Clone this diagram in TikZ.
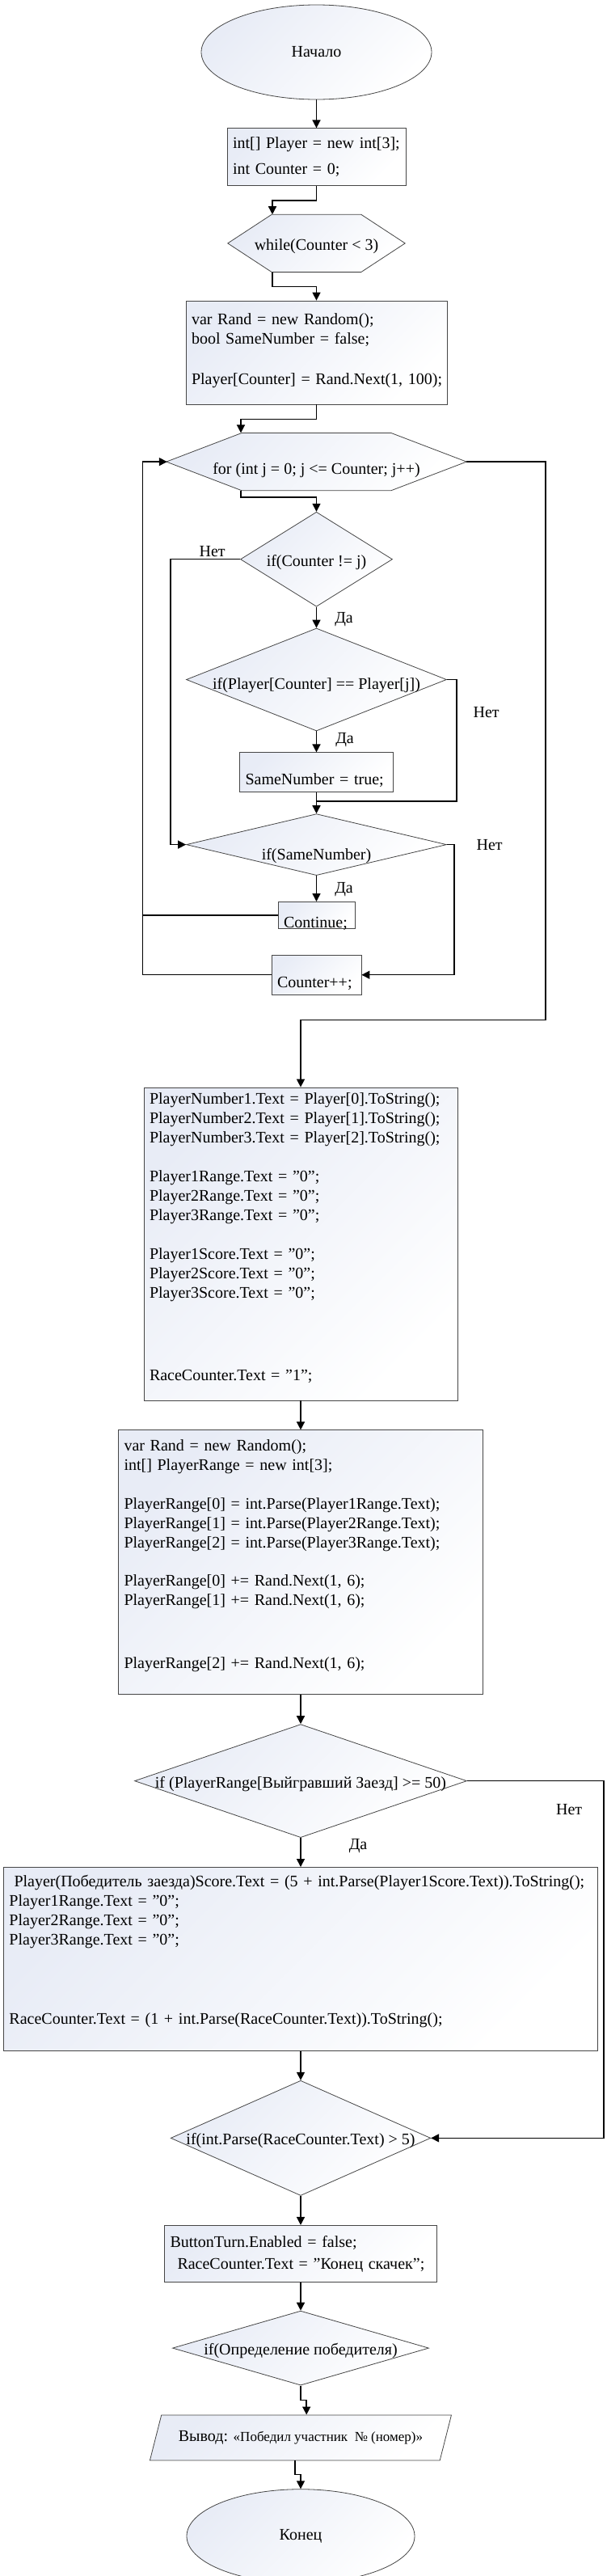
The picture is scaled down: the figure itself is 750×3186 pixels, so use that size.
\documentclass[tikz,border=0pt]{standalone}
\usepackage{fontspec}
\setmainfont{Liberation Serif}
\usepackage{tikz}
\usetikzlibrary{positioning,shapes.geometric,arrows.meta,calc}
\pgfdeclarelayer{bg}
\pgfsetlayers{bg,main}
\definecolor{flowtint}{RGB}{232,236,246}
\definecolor{flowline}{RGB}{70,70,70}

\begin{document}
\begin{tikzpicture}[
x=1pt, y=1pt,
>={Triangle[length=10pt, width=10pt]},
every node/.style={font=\fontsize{20}{24}\selectfont},
tinted/.style={draw=flowline, line width=0.8pt, top color=flowtint, bottom color=white, shading angle=45},
terminal/.style={tinted, ellipse, inner sep=0pt},
block/.style={tinted, rectangle, align=left, inner xsep=7pt, inner ysep=0pt},
loophead/.style={rectangle, inner sep=0pt, minimum height=71pt, text height=17pt, text depth=0pt},
decision/.style={tinted, diamond, inner sep=0pt, text height=17pt, text depth=0pt},
io/.style={tinted, trapezium, trapezium left angle=50, trapezium right angle=130, trapezium stretches body, inner sep=0pt},
flow/.style={draw, line width=1.5pt},
answer/.style={inner sep=2pt},
]

\useasboundingbox (0,0) rectangle (750,-3186);

\node[terminal, minimum width=285pt, minimum height=117pt] (start) at (391.5,-64.5) {Начало};
\node[block, below=35pt of start, text width=207pt, text height=25pt, text depth=46pt] (init) {int[] Player = new int[3];\\[8pt]
int Counter = 0;};
\node[loophead, below=35pt of init, minimum width=219pt] (whileloop) {while(Counter < 3)};
\node[block, below=35pt of whileloop, text width=309pt, text height=29pt, text depth=99pt] (rand) {var Rand = new Random();\\
bool SameNumber = false;\\[26pt]
\mbox{Player[Counter] = Rand.Next(1, 100);}};
\node[loophead, below=35pt of rand, minimum width=371pt, text height=31pt] (forloop) {for (int j = 0; j <= Counter; j++)};
\node[decision, below=26pt of forloop, minimum width=188pt, minimum height=117pt, aspect=1.6] (cond1) {if(Counter != j)};
\node[decision, below=26pt of cond1, minimum width=322pt, minimum height=127pt, aspect=2.54, text height=24pt] (cond2) {if(Player[Counter] == Player[j])};
\node[block, below=26pt of cond2, text width=176pt, text height=40pt, text depth=9pt] (same) {SameNumber = true;};
\node[decision, below=26pt of same, minimum width=322pt, minimum height=76pt, aspect=4.24, text height=38pt] (cond3) {if(SameNumber)};
\node[block, below=32pt of cond3, text width=81pt, text height=32pt, text depth=1pt] (cont) {Continue;};
\node[block, below=32pt of cont, text width=97pt, text height=40pt, text depth=9pt] (incr) {Counter++;};

\node[block, below=114pt of incr, xshift=-19.5pt, text width=374pt, text height=20pt, text depth=367pt] (setup) {PlayerNumber1.Text = Player[0].ToString();\\
PlayerNumber2.Text = Player[1].ToString();\\
PlayerNumber3.Text = Player[2].ToString();\\[24pt]
Player1Range.Text = "0";\\
Player2Range.Text = "0";\\
Player3Range.Text = "0";\\[24pt]
Player1Score.Text = "0";\\
Player2Score.Text = "0";\\
Player3Score.Text = "0";\\[78pt]
RaceCounter.Text = "1";};
\node[block, below=36pt of setup, text width=437pt, text height=26pt, text depth=301pt] (race) {var Rand = new Random();\\
int[] PlayerRange = new int[3];\\[24pt]
PlayerRange[0] = int.Parse(Player1Range.Text);\\
PlayerRange[1] = int.Parse(Player2Range.Text);\\
PlayerRange[2] = int.Parse(Player3Range.Text);\\[23pt]
PlayerRange[0] += Rand.Next(1, 6);\\
PlayerRange[1] += Rand.Next(1, 6);\\[54pt]
PlayerRange[2] += Rand.Next(1, 6);};
\node[decision, below=36pt of race, minimum width=411pt, minimum height=140pt, aspect=2.94] (cond4) {if (PlayerRange[Выйгравший Заезд] >= 50)};
\node[block, below=36pt of cond4, text width=721pt, text height=24pt, text depth=203pt] (win) {\hspace*{6pt}Player(Победитель заезда)Score.Text = (5 + int.Parse(Player1Score.Text)).ToString();\\
Player1Range.Text = "0";\\
Player2Range.Text = "0";\\
Player3Range.Text = "0";\\[74pt]
RaceCounter.Text = (1 + int.Parse(RaceCounter.Text)).ToString();};
\node[decision, below=36pt of win, minimum width=317pt, minimum height=140pt, aspect=2.26] (cond5) {if(int.Parse(RaceCounter.Text) > 5)};
\node[block, below=36pt of cond5, text width=323pt, text height=27pt, text depth=43pt] (finish) {ButtonTurn.Enabled = false;\\[3pt]
\hspace*{9pt}RaceCounter.Text = "Конец скачек";};
\node[decision, below=35pt of finish, minimum width=317pt, minimum height=92pt, aspect=3.45] (cond6) {if(Определение победителя)};
\node[io, below=36pt of cond6, minimum width=373pt, minimum height=56pt] (out) {Вывод: {\fontsize{17}{20}\selectfont «Победил участник\ \ № (номер)»}};
\node[terminal, below=35pt of out, minimum width=282pt, minimum height=116pt] (stop) {Конец};

\begin{pgfonlayer}{bg}
\path[tinted] ([xshift=54.5pt]whileloop.north west) -- ([xshift=-54.5pt]whileloop.north east) -- (whileloop.east)
  -- ([xshift=-54.5pt]whileloop.south east) -- ([xshift=54.5pt]whileloop.south west) -- (whileloop.west) -- cycle;
\path[tinted] ([xshift=93.5pt]forloop.north west) -- ([xshift=-93.5pt]forloop.north east) -- (forloop.east)
  -- ([xshift=-93.5pt]forloop.south east) -- ([xshift=93.5pt]forloop.south west) -- (forloop.west) -- cycle;
\end{pgfonlayer}

\draw[flow, ->] (start) -- (init);
\draw[flow, ->] (init.south) -- ++(0,-18) -| ([xshift=-54.5pt]whileloop.north);
\draw[flow, ->] ([xshift=-54.5pt]whileloop.south) -- ++(0,-18) -| (rand.north);
\draw[flow, ->] (rand.south) -- ++(0,-18) -| ([xshift=-93.5pt]forloop.north);
\draw[flow, ->] ([xshift=-93.5pt]forloop.south) -- ++(0,-8) -| (cond1.north);
\draw[flow, ->] (cond1) -- node[answer, right=20pt, pos=0.6] (yes1) {Да} (cond2);
\draw[flow, ->] (cond1.west) -- node[answer, above, pos=0.4] (no1) {Нет} ++(-86,0) |- (cond3.west);
\draw[flow, ->] (cond2) -- node[answer, right=21pt, pos=0.4] (yes2) {Да} (same);
\draw[flow] (cond2.east) -- ++(12,0) |- node[answer, right=18pt, pos=0.135] (no2) {Нет} ([yshift=15pt]cond3.north);
\draw[flow, ->] (same) -- (cond3);
\draw[flow, ->] (cond3) -- node[answer, right=20pt, pos=0.53] (yes3) {Да} (cont);
\draw[flow, ->] (cond3.east) -- ++(9,0) |- node[answer, right=25pt, pos=0] (no3) {Нет} (incr.east);

\coordinate (back) at ([xshift=-159pt]incr.west);
\draw[flow] (cont.west) -- (cont.west -| back);
\draw[flow, ->] (incr.west) -- (back) |- ([xshift=1pt]forloop.west);
\draw[flow, ->] (forloop.east) -- ++(98,0) |- ([yshift=83pt]setup.north) -- (setup.north);

\draw[flow, ->] (setup) -- (race);
\draw[flow, ->] (race) -- (cond4);
\draw[flow, ->] (cond4) -- node[answer, right=57pt, pos=0.28] (yes4) {Да} (win);
\draw[flow, ->] (cond4.east) -- ++(169,0) |- node[answer, left=24pt, pos=0.04] (no4) {Нет} (cond5.east);
\draw[flow, ->] (win) -- (cond5);
\draw[flow, ->] (cond5) -- (finish);
\draw[flow, ->] (finish) -- (cond6);
\draw[flow, ->] (cond6.south) -- ++(0,-18) -| ($(out.top left corner)!0.5!(out.top right corner)$);
\draw[flow, ->] ($(out.bottom left corner)!0.5!(out.bottom right corner)$) -- ++(0,-17) -| (stop.north);

\end{tikzpicture}
\end{document}
